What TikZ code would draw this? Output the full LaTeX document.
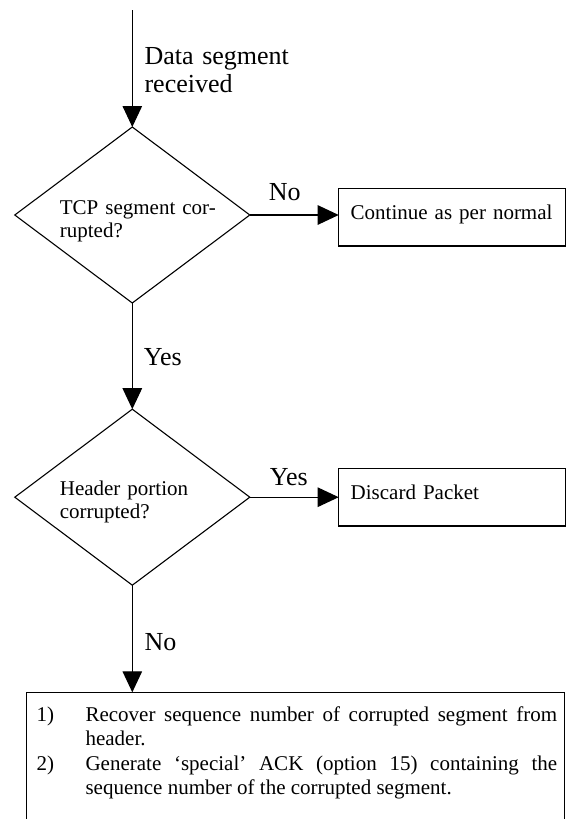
\documentclass[tikz,border=0pt]{standalone}
\usepackage{fontspec}
\setmainfont{Liberation Serif}
\usetikzlibrary{shapes.geometric,arrows.meta}
\begin{document}
\begin{tikzpicture}[x=1pt,y=-1pt,line width=1.1pt,
  decision/.style={draw, diamond, inner sep=0pt, outer sep=0pt,
    minimum width=235pt, minimum height=176pt},
  flowbox/.style={draw, rectangle, anchor=north west, outer sep=0pt,
    inner xsep=12pt, text width=202.8pt, minimum height=57.7pt, align=left,
    font=\fontsize{21}{23}\selectfont, text height=14pt, text depth=9pt},
  dtext/.style={anchor=base west, inner sep=0pt, text width=180pt, align=left,
    font=\fontsize{21}{23}\selectfont},
  lbl/.style={anchor=base west, inner sep=0pt, text width=200pt, align=left,
    font=\fontsize{26}{28.3}\selectfont},
  flow/.style={-{Triangle[length=21pt,width=19.5pt]}}
]
\useasboundingbox (0,0) rectangle (570,819);
\clip (0,0) rectangle (570,819);

\coordinate (start) at (132.3,10);
\node[decision] (d1) at (132.3,215) {};
\node[decision] (d2) at (132.3,497.2) {};
\node[dtext] (d1txt) at (59.3,214) {TCP segment cor-\\rupted?};
\node[dtext] (d2txt) at (59.3,495) {Header portion\\corrupted?};

\node[flowbox] (cont) at (338.7,188.3) {Continue as per normal};
\node[flowbox] (discard) at (338.7,468.3) {Discard Packet};

\node[draw, rectangle, anchor=north west, outer sep=0pt, inner sep=0pt,
  minimum width=537.6pt, minimum height=160pt] (actionbox) at (26.7,692.3) {};
\node[anchor=base west, inner sep=0pt, text width=471.7pt, align=justify,
  font=\fontsize{21}{24.2}\selectfont] (actiontext) at (85,721.7)
  {\hyphenpenalty=10000 \tolerance=10000
   \noindent\llap{\makebox[49pt][l]{1)}}Recover sequence number of corrupted segment from\linebreak header.\par
   \noindent\llap{\makebox[49pt][l]{2)}}Generate ‘special’ ACK (option 15) containing the\linebreak sequence number of the corrupted segment.};

\draw[flow] (start) -- (d1.north);
\draw[flow] (d1.south) -- (d2.north);
\draw[flow] (d1.east) -- (d1.east -| cont.west);
\draw[flow] (d2.east) -- (d2.east -| discard.west);
\draw[flow] (d2.south) -- (d2.south |- actionbox.north);

\node[lbl] (ldata) at (144,64.3) {Data segment\\received};
\node[lbl] (lno1) at (268.3,200.7) {No};
\node[lbl] (lyes1) at (143.3,365) {Yes};
\node[lbl] (lyes2) at (269.3,485) {Yes};
\node[lbl] (lno2) at (144,650.7) {No};
\end{tikzpicture}
\end{document}
